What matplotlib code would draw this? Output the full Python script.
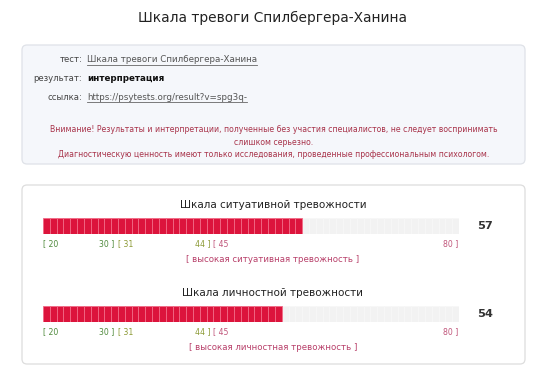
import matplotlib
matplotlib.use("Agg")
import matplotlib.pyplot as plt
from matplotlib.patches import FancyBboxPatch
import matplotlib.transforms as mtransforms
import numpy as np

plt.rcParams['font.family'] = ['DejaVu Sans']

# --- data ---
page_title = "Шкала тревоги Спилбергера-Ханина"
info_labels = ["тест:", "результат:", "ссылка:"]
info_values = ["Шкала тревоги Спилбергера-Ханина", "интерпретация",
               "https://psytests.org/result?v=spg3q-"]
warning_lines = [
    "Внимание! Результаты и интерпретации, полученные без участия специалистов, не следует воспринимать",
    "слишком серьезно.",
    "Диагностическую ценность имеют только исследования, проведенные профессиональным психологом.",
]
scale_titles = ["Шкала ситуативной тревожности", "Шкала личностной тревожности"]
scores = [57, 54]
interpretations = ["[ высокая ситуативная тревожность ]",
                   "[ высокая личностная тревожность ]"]
score_min, score_max = 20, 80
zone_lo = [20, 31, 45]
zone_hi = [30, 44, 80]
zone_colors = ["#4f8a3c", "#8c9a35", "#c0557a"]

BAR = "#dc143c"
TRACK = "#f2f2f2"

fig = plt.figure(figsize=(5.45, 3.68), dpi=100)
ax = fig.add_axes([0, 0, 1, 1])
ax.set_xlim(0, 545)
ax.set_ylim(368, 0)
ax.axis("off")

W, H = 545, 368


def card(x0, y0, x1, y1, face, edge):
    p = FancyBboxPatch((x0, y0), x1 - x0, y1 - y0,
                       boxstyle="round,pad=0,rounding_size=5",
                       facecolor=face, edgecolor=edge, linewidth=0.9)
    ax.add_patch(p)


ax.text(273, 18, page_title, ha="center", va="center", fontsize=9.9, color="#222222")

# info card
card(22, 45, 525, 164, "#f5f7fb", "#dfe2e8")
fig.canvas.draw()
renderer = fig.canvas.get_renderer()
inv = ax.transData.inverted()
for i, (lab, val) in enumerate(zip(info_labels, info_values)):
    y = 60 + i * 18.5
    ax.text(82, y, lab, ha="right", va="center", fontsize=6.1, color="#444444")
    t = ax.text(87, y, val, ha="left", va="center", fontsize=6.35,
                color="#111111" if i == 1 else "#555555",
                fontweight="bold" if i == 1 else "normal")
    if i != 1:
        bb = t.get_window_extent(renderer)
        (xa, _), (xb, _) = inv.transform([(bb.x0, bb.y0), (bb.x1, bb.y0)])
        ax.plot([xa, xb], [y + 5, y + 5], color="#666666", lw=0.6)

for i, line in enumerate(warning_lines):
    ax.text(274, 130 + i * 12.3, line, ha="center", va="center",
            fontsize=5.6, color="#a8334a")

# results card
card(22, 185, 525, 364, "white", "#dddddd")

bar_top = [218, 306]
for k in range(len(scores)):
    top = bar_top[k]
    ax.text(273, top - 13, scale_titles[k], ha="center", va="center",
            fontsize=7.5, color="#222222")
    bax = fig.add_axes([43 / W, 1 - (top + 16) / H, (459 - 43) / W, 16 / H])
    cells = np.arange(score_min, score_max + 1)
    bax.bar(cells, 1, width=1, color=TRACK, edgecolor="#f7f7f7", linewidth=0.5)
    filled = np.arange(score_min, scores[k] + 1)
    bax.bar(filled, 1, width=1, color=BAR, edgecolor="#f26a86", linewidth=0.6)
    bax.set_xlim(score_min - 0.5, score_max + 0.5)
    bax.set_ylim(0, 1)
    bax.axis("off")
    tr = mtransforms.blended_transform_factory(bax.transData, bax.transAxes)
    for lo, hi, c in zip(zone_lo, zone_hi, zone_colors):
        bax.text(lo - 0.5, -0.6, f"[ {lo}", transform=tr, ha="left", va="center",
                 fontsize=5.6, color=c)
        hx = hi + (0.4 if hi == score_max else 0.0)
        bax.text(hx, -0.6, f"{hi} ]", transform=tr, ha="right", va="center",
                 fontsize=5.6, color=c)
    ax.text(485, top + 8, str(scores[k]), ha="center", va="center",
            fontsize=8.2, fontweight="bold", color="#333333")
    ax.text(273, top + 42, interpretations[k], ha="center", va="center",
            fontsize=6.2, color="#b8406a")

fig.savefig("out.png", dpi=100)
